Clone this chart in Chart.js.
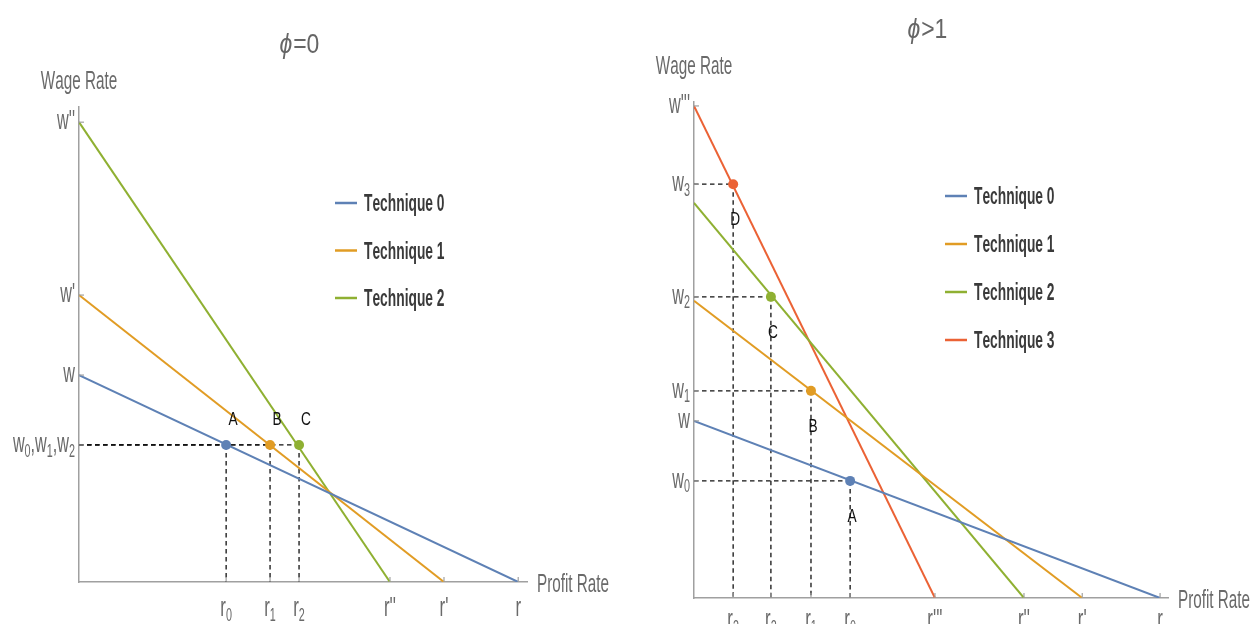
<!DOCTYPE html>
<html><head><meta charset="utf-8">
<script src="https://cdn.jsdelivr.net/npm/chart.js@4.4.0/dist/chart.umd.min.js"></script>
<style>
html,body{margin:0;padding:0;background:#fff;overflow:hidden}
#wrap{position:relative;width:1257px;height:624px}
canvas{position:absolute;top:0}
#c1{left:0}
#c2{left:628px}
</style></head><body>
<div id="wrap"><canvas id="c1" width="628" height="624"></canvas><canvas id="c2" width="629" height="624"></canvas></div>
<script>
// ---------- DATA: left panel (phi = 0) ----------
const leftTitle = ['\u03D5', '=0'];
const leftCategories = ['Technique 0', 'Technique 1', 'Technique 2'];
const leftWageIntercepts = [4.5, 6.24, 10];
const leftProfitIntercepts = [10, 8.31, 7.08];
const leftPointR = [3.35, 4.35, 5.01];
const leftPointW = [2.98, 2.98, 2.98];
const leftPointLabels = ['A', 'B', 'C'];
const leftXTicks = [3.35, 4.35, 5.01, 7.08, 8.31, 10];
const leftXTickLabels = ['r_0', 'r_1', 'r_2', "r''", "r'", 'r'];
const leftYTicks = [2.98, 4.5, 6.24, 10];
const leftYTickLabels = ['w_0,w_1,w_2', 'w', "w'", "w''"];

// ---------- DATA: right panel (phi > 1) ----------
const rightTitle = ['\u03D5', '>1'];
const rightCategories = ['Technique 0', 'Technique 1', 'Technique 2', 'Technique 3'];
const rightWageIntercepts = [3.6, 6.04, 8.03, 10];
const rightProfitIntercepts = [10, 8.33, 7.08, 5.17];
const rightPointR = [3.35, 2.51, 1.65, 0.84];
const rightPointW = [2.38, 4.21, 6.12, 8.41];
const rightPointLabels = ['A', 'B', 'C', 'D'];
const rightXTicks = [0.84, 1.65, 2.51, 3.35, 5.17, 7.08, 8.33, 10];
const rightXTickLabels = ['r_3', 'r_2', 'r_1', 'r_0', "r'''", "r''", "r'", 'r'];
const rightYTicks = [2.38, 3.6, 4.21, 6.12, 8.41, 10];
const rightYTickLabels = ['w_0', 'w', 'w_1', 'w_2', 'w_3', "w'''"];

const COLORS = ['#5E81B5', '#E19C24', '#8FB032', '#EB6235'];
const FONT = '"Liberation Sans",Arial,sans-serif';
const AXIS = '#a0a0a0';
const LABEL = '#6a6a6a';

// draw (optionally subscripted) text horizontally compressed by sx; y = baseline
function drawText(ctx, str, x, y, align, size, sx, weight) {
  weight = weight || '';
  const segs = [];
  for (let i = 0; i < str.length; i++) {
    if (str[i] === '_') { segs.push({t: str[i + 1], sub: true}); i++; }
    else segs.push({t: str[i], sub: false});
  }
  const mainF = weight + ' ' + size + 'px ' + FONT, subF = weight + ' ' + Math.round(size * 0.66) + 'px ' + FONT;
  let w = 0;
  segs.forEach(s => { ctx.font = s.sub ? subF : mainF; s.w = ctx.measureText(s.t).width; w += s.w; });
  ctx.save();
  ctx.translate(x, y);
  ctx.scale(sx, 1);
  let cx = align === 'right' ? -w : align === 'center' ? -w / 2 : 0;
  ctx.textAlign = 'left'; ctx.textBaseline = 'alphabetic';
  segs.forEach(s => { ctx.font = s.sub ? subF : mainF; ctx.fillText(s.t, cx, s.sub ? size * 0.17 : 0); cx += s.w; });
  ctx.restore();
}

const deco = {
  id: 'deco',
  afterDraw(chart, args, o) {
    const ctx = chart.ctx, xs = chart.scales.x, ys = chart.scales.y, ca = chart.chartArea;
    ctx.save();
    // tick marks (inside)
    ctx.strokeStyle = AXIS; ctx.lineWidth = 1.2;
    o.xTicks.forEach(v => { const px = xs.getPixelForValue(v); ctx.beginPath(); ctx.moveTo(px, ca.bottom); ctx.lineTo(px, ca.bottom - 5); ctx.stroke(); });
    o.yTicks.forEach(v => { const py = ys.getPixelForValue(v); ctx.beginPath(); ctx.moveTo(ca.left, py); ctx.lineTo(ca.left + 5, py); ctx.stroke(); });
    // tick labels
    ctx.fillStyle = LABEL;
    o.xTicks.forEach((v, i) => drawText(ctx, o.xLabels[i], xs.getPixelForValue(v), ca.bottom + o.xLabDy, 'center', 28, 0.6));
    o.yTicks.forEach((v, i) => drawText(ctx, o.yLabels[i], ca.left - 4, ys.getPixelForValue(v) + 7, 'right', 27, 0.6));
    // axis titles
    drawText(ctx, 'Profit Rate', ca.right + 10, ca.bottom + 10, 'left', 25, 0.61);
    drawText(ctx, 'Wage Rate', ca.left, o.wageY, 'center', 25, 0.61);
    // title
    ctx.fillStyle = '#666';
    ctx.font = 'italic 27px ' + FONT; const w1 = ctx.measureText(o.title[0]).width * 0.85;
    ctx.font = '27px ' + FONT; const w2 = ctx.measureText(o.title[1]).width * 0.85;
    const tx = o.titleX - (w1 + w2) / 2;
    ctx.save(); ctx.translate(tx, o.titleY); ctx.scale(0.85, 1);
    ctx.textAlign = 'left'; ctx.textBaseline = 'alphabetic';
    ctx.font = 'italic 27px ' + FONT; ctx.fillText(o.title[0], 0, 0);
    ctx.font = '27px ' + FONT; ctx.fillText(o.title[1], w1 / 0.85 + 1, 0);
    ctx.restore();
    // legend
    o.cats.forEach((c, i) => {
      const y = o.legY + i * o.legStep;
      ctx.strokeStyle = COLORS[i]; ctx.lineWidth = 2.5;
      ctx.beginPath(); ctx.moveTo(o.legX, y); ctx.lineTo(o.legX + 22, y); ctx.stroke();
      ctx.fillStyle = '#3a3a3a';
      drawText(ctx, c, o.legX + 29, y + 8, 'left', 23, 0.6, 'bold');
    });
    // point labels
    ctx.fillStyle = '#111';
    o.pr.forEach((r, i) => {
      drawText(ctx, o.pLabels[i], xs.getPixelForValue(r) + o.plDx, ys.getPixelForValue(o.pw[i]) + o.plDy + 7, 'center', 19, 0.72);
    });
    ctx.restore();
  }
};

function makeChart(id, o) {
  const datasets = [];
  o.pr.forEach((r, i) => datasets.push({
    label: 'pt', data: [{x: r, y: o.pw[i]}], showLine: false, pointRadius: 5, pointHoverRadius: 5,
    backgroundColor: COLORS[i], borderColor: COLORS[i], borderWidth: 0, order: 0
  }));
  o.cats.forEach((c, i) => datasets.push({
    label: c, data: [{x: 0, y: o.wInt[i]}, {x: o.rInt[i], y: 0}], showLine: true,
    borderColor: COLORS[i], backgroundColor: COLORS[i], borderWidth: 2, pointRadius: 0, order: 1
  }));
  const dash = {showLine: true, borderColor: '#111', borderWidth: 1.3, borderDash: [4.5, 3.5], pointRadius: 0, order: 2};
  o.pr.forEach((r, i) => {
    datasets.push(Object.assign({label: 'h', data: [{x: 0, y: o.pw[i]}, {x: r, y: o.pw[i]}]}, dash));
    datasets.push(Object.assign({label: 'v', data: [{x: r, y: o.pw[i]}, {x: r, y: 0}]}, dash));
  });
  return new Chart(document.getElementById(id), {
    type: 'scatter',
    data: {datasets},
    options: {
      responsive: false, animation: false, devicePixelRatio: 1,
      layout: {padding: {left: 0, top: o.areaTop, right: o.w - o.areaRight, bottom: 0}},
      plugins: {legend: {display: false}, tooltip: {enabled: false}, deco: o},
      scales: {
        x: {type: 'linear', min: 0, max: o.xMax, ticks: {display: false}, grid: {display: false},
            border: {display: true, color: AXIS, width: 1.5}, afterFit(s) { s.height = o.h - o.axisY; }},
        y: {type: 'linear', min: 0, max: o.yMax, ticks: {display: false}, grid: {display: false},
            border: {display: true, color: AXIS, width: 1.5}, afterFit(s) { s.width = o.axisX; }}
      }
    },
    plugins: [deco]
  });
}

makeChart('c1', {
  w: 628, h: 624, axisX: 79, areaRight: 527, areaTop: 107, axisY: 582, xMax: 10.2, yMax: 10.33,
  cats: leftCategories, wInt: leftWageIntercepts, rInt: leftProfitIntercepts,
  pr: leftPointR, pw: leftPointW, pLabels: leftPointLabels, plDx: 7, plDy: -27,
  xTicks: leftXTicks, xLabels: leftXTickLabels, yTicks: leftYTicks, yLabels: leftYTickLabels, xLabDy: 34,
  title: leftTitle, titleX: 299, titleY: 53, wageY: 89,
  legX: 335, legY: 203, legStep: 47.5
});
makeChart('c2', {
  w: 629, h: 624, axisX: 66, areaRight: 540, areaTop: 102, axisY: 598, xMax: 10.17, yMax: 10.08,
  cats: rightCategories, wInt: rightWageIntercepts, rInt: rightProfitIntercepts,
  pr: rightPointR, pw: rightPointW, pLabels: rightPointLabels, plDx: 2, plDy: 34,
  xTicks: rightXTicks, xLabels: rightXTickLabels, yTicks: rightYTicks, yLabels: rightYTickLabels, xLabDy: 30,
  title: rightTitle, titleX: 299, titleY: 38, wageY: 74,
  legX: 317, legY: 196, legStep: 48
});
</script>
</body></html>
